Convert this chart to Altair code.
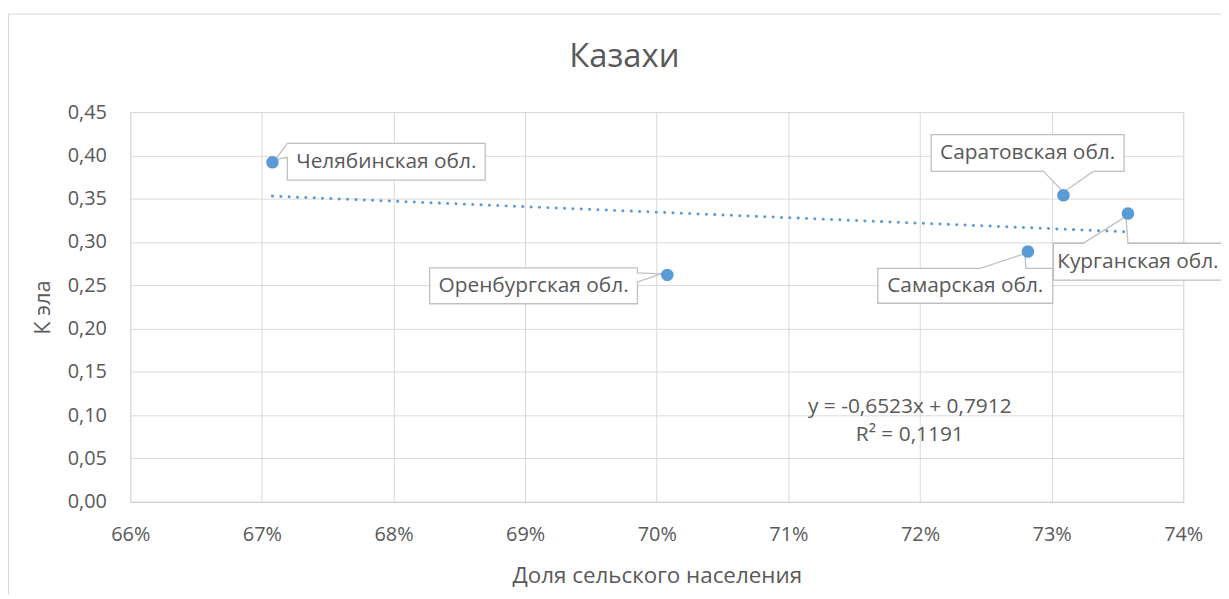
import altair as alt
import pandas as pd

# ---------------- data ----------------
regions = ["Челябинская обл.", "Оренбургская обл.", "Самарская обл.",
           "Саратовская обл.", "Курганская обл."]
rural_share = [0.6708, 0.7008, 0.7282, 0.7309, 0.7358]
k_ela = [0.392, 0.262, 0.289, 0.354, 0.333]

x_ticks = [0.66, 0.67, 0.68, 0.69, 0.70, 0.71, 0.72, 0.73, 0.74]
y_ticks = [0.0, 0.05, 0.10, 0.15, 0.20, 0.25, 0.30, 0.35, 0.40, 0.45]

chart_title = "Казахи"
x_title = "Доля сельского населения"
y_title = "К эла"
equation_lines = ["y = -0,6523x + 0,7912", "R² = 0,1191"]

# ---------------- style ----------------
FONT = "Open Sans"
TXT = "#595959"
GRID = "#d9d9d9"
BLUE = "#5B9BD5"
BOX_STROKE = "#bfbfbf"

W, H = 1059, 392
PAD = {"left": 123, "top": 103, "right": 38, "bottom": 92}

# callout outline (pixel offsets relative to the point) and text offset
callouts = {
    "Челябинская обл.": ("M15,-19 L214,-19 L214,18 L15,18 L15,-5 L3,-3 Z", 114.5, -0.5),
    "Оренбургская обл.": ("M-239,-7 L-30,-7 L-30,-2 L-6,-1 L-30,7 L-30,29 L-239,29 Z", -134.5, 11),
    "Самарская обл.": ("M-151,17 L-48,17 L-3,2 L-2,17 L25,17 L25,52 L-151,52 Z", -63, 34.5),
    "Саратовская обл.": ("M-133,-61 L61,-61 L61,-24 L30,-24 L0,-3 L-20,-24 L-133,-24 Z", -36, -42.5),
    "Курганская обл.": ("M-75,30 L-45,30 L-2,3 L0,30 L99,30 L99,67 L-75,67 Z", 10, 48.5),
}

df = pd.DataFrame({"region": regions, "x": rural_share, "y": k_ela})
one = pd.DataFrame({"k": [0]})

x_enc = alt.X(
    "x:Q",
    scale=alt.Scale(domain=[0.66, 0.74], nice=False, zero=False),
    axis=alt.Axis(
        values=x_ticks, format=".0%", grid=True, gridColor=GRID, gridWidth=1,
        domainColor="#d0d0d0", domainWidth=1, ticks=False, tickSize=0,
        labelFlush=False, labelOverlap=False,
        labelPadding=23, labelFont=FONT, labelFontSize=20, labelColor=TXT,
        title=x_title, titleFont=FONT, titleFontSize=22.5, titleFontWeight="normal",
        titleColor=TXT, titleBaseline="middle", titleY=74,
    ),
)
y_enc = alt.Y(
    "y:Q",
    scale=alt.Scale(domain=[0, 0.45], nice=False),
    axis=alt.Axis(
        values=y_ticks, labelExpr="replace(format(datum.value, '.2f'), '.', ',')",
        grid=True, gridColor=GRID, gridWidth=1, domain=False, ticks=False, tickSize=0,
        labelFlush=False, labelOverlap=False,
        labelPadding=24, labelFont=FONT, labelFontSize=20, labelColor=TXT,
        title=y_title, titleFont=FONT, titleFontSize=22, titleFontWeight="normal",
        titleColor=TXT, titleAngle=270, titleBaseline="middle", titleAlign="center",
        titleX=-88, titleY=196,
    ),
)

base = alt.Chart(df).encode(x=x_enc, y=y_enc)

border = alt.Chart(one).mark_rect(
    fillOpacity=0, stroke=GRID, strokeWidth=1
).encode(
    x=alt.value(-122.5), x2=alt.value(1300), y=alt.value(-98.5), y2=alt.value(700)
)

trend = base.transform_regression("x", "y").mark_line(
    color=BLUE, strokeWidth=3, strokeDash=[0.1, 8.3], strokeCap="round"
)

layers = [border]
for name in regions:
    path, dx, dy = callouts[name]
    sub = base.transform_filter(alt.datum.region == name)
    layers.append(
        sub.mark_point(shape=path, size=4, filled=True, fill="white", fillOpacity=1,
                       stroke=BOX_STROKE, strokeWidth=1.3, opacity=1)
    )
    layers.append(
        sub.mark_text(dx=dx, dy=dy, font=FONT, fontSize=21, color=TXT,
                      align="center", baseline="middle").encode(text="region:N")
    )

points = base.mark_circle(size=160, color=BLUE, opacity=1)

title_txt = alt.Chart(one).mark_text(
    font=FONT, fontSize=33, color=TXT, align="center", baseline="middle"
).encode(x=alt.value(497), y=alt.value(-55), text=alt.value(chart_title))

eq1 = alt.Chart(one).mark_text(
    font=FONT, fontSize=21, color=TXT, align="center", baseline="middle"
).encode(x=alt.value(784), y=alt.value(297), text=alt.value(equation_lines[0]))
eq2 = alt.Chart(one).mark_text(
    font=FONT, fontSize=21, color=TXT, align="center", baseline="middle"
).encode(x=alt.value(784), y=alt.value(325), text=alt.value(equation_lines[1]))

chart = alt.layer(*layers, trend, points, title_txt, eq1, eq2).properties(
    width=W, height=H,
    autosize=alt.AutoSizeParams(type="none"),
    padding=PAD,
).configure_view(stroke=None).configure(background="white")

chart.save("out.html", embed_options={"renderer": "svg", "actions": False})
